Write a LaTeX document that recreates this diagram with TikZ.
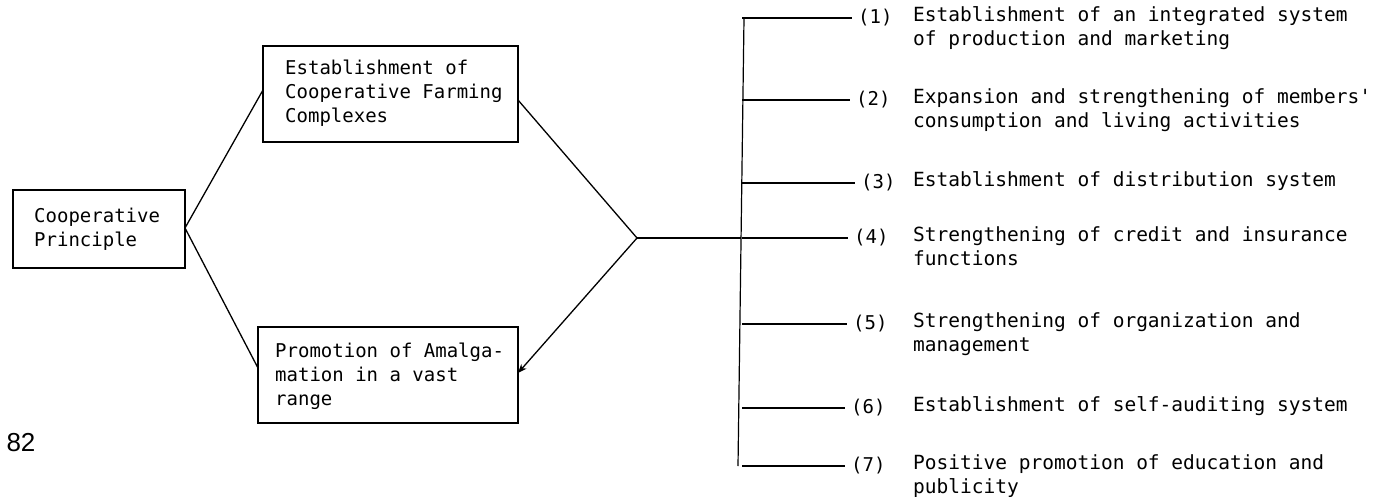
\documentclass[tikz,border=0pt]{standalone}
\usepackage{fontspec}
\setmonofont{DejaVu Sans Mono}
\newfontfamily\pagenumfont{Liberation Sans}
\usetikzlibrary{arrows.meta}
\tikzset{
  box/.style={draw, line width=1.5pt, inner sep=0pt},
  txt/.style={font=\ttfamily\fontsize{19}{24}\selectfont, align=left, inner sep=0pt, anchor=west},
  itemtxt/.style={font=\ttfamily\fontsize{19.5}{24}\selectfont, align=left, inner sep=0pt, anchor=north west},
  conn/.style={line width=1.3pt},
  tick/.style={line width=1.2pt},
}
\begin{document}
\begin{tikzpicture}[x=1pt,y=-1pt]
\useasboundingbox (0,0) rectangle (1380,497);

% boxes
\draw[box] (13,190) rectangle (185,268);
\node[txt] (cp) at (34,229) {Cooperative\\Principle};
\coordinate (cpR) at (185,228);

\draw[box] (263,46) rectangle (518,142);
\node[txt] (ef) at (285,93) {Establishment of\\Cooperative Farming\\Complexes};
\coordinate (efL) at (263,90);
\coordinate (efR) at (518,100);

\draw[box] (258,327) rectangle (518,423);
\node[txt] (pa) at (275,376) {Promotion of Amalga-\\mation in a vast\\range};
\coordinate (paL) at (258,368);
\coordinate (paR) at (518,373);

% connectors
\coordinate (j) at (637,238);
\draw[conn] (efL) -- (cpR) -- (paL);
\draw[conn] (efR) -- (j);
\draw[conn, -{Stealth[length=9pt,width=7pt]}] (j) -- (paR);

% bus
\coordinate (b1) at (744,18);
\coordinate (b7) at (738,466);
\coordinate (b4) at (741,238);
\draw[tick] (b1) -- (b7);
\draw[conn] (j) -- (b4);

% items
\foreach \i/\y/\xe in {1/18/852, 2/100/850, 3/183/855, 4/238/848, 5/324/847, 6/408/845, 7/466/845}{
  \coordinate (s\i) at (742,\y);
  \coordinate (e\i) at (\xe,\y);
  \draw[tick] (s\i) -- (e\i);
  \node[txt] (n\i) at (\xe+6,\y) {(\i)};
}
\node[itemtxt] (t1) at (913,18-12) {Establishment of an integrated system\\of production and marketing};
\node[itemtxt] (t2) at (913,100-12) {Expansion and strengthening of members'\\consumption and living activities};
\node[itemtxt] (t3) at (913,183-12) {Establishment of distribution system};
\node[itemtxt] (t4) at (913,238-12) {Strengthening of credit and insurance\\functions};
\node[itemtxt] (t5) at (913,324-12) {Strengthening of organization and\\management};
\node[itemtxt] (t6) at (913,408-12) {Establishment of self-auditing system};
\node[itemtxt] (t7) at (913,466-12) {Positive promotion of education and\\publicity};

% page number
\node[font=\pagenumfont\fontsize{26}{30}\selectfont, inner sep=0pt] (pg) at (21,443) {82};
\end{tikzpicture}
\end{document}
